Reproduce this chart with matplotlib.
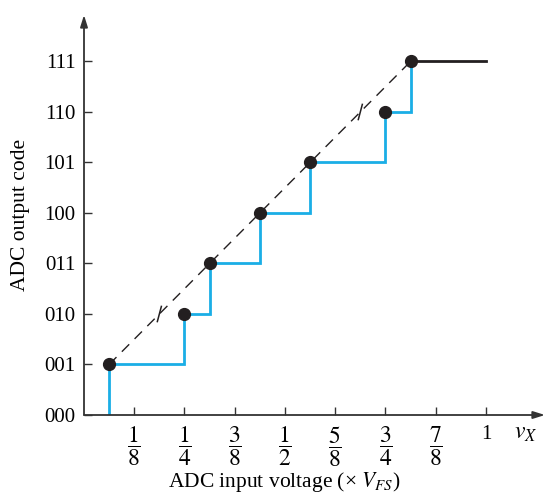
import numpy as np
import matplotlib
matplotlib.use("Agg")
import matplotlib.pyplot as plt

plt.rcParams['font.family'] = ['Liberation Serif', 'DejaVu Serif']
plt.rcParams['mathtext.fontset'] = 'stix'

# output codes on the y axis
code_labels = ['000', '001', '010', '011', '100', '101', '110', '111']
# x tick positions (fraction of full scale) and their labels
x_ticks = [1/8, 1/4, 3/8, 1/2, 5/8, 3/4, 7/8, 1]
x_tick_labels = [r'$\dfrac{1}{8}$', r'$\dfrac{1}{4}$', r'$\dfrac{3}{8}$', r'$\dfrac{1}{2}$',
                 r'$\dfrac{5}{8}$', r'$\dfrac{3}{4}$', r'$\dfrac{7}{8}$', '1']
# input voltages where the code steps up (measured transitions)
trans_x = [1/16, 1/4, 5/16, 7/16, 9/16, 3/4, 13/16]
trans_code = [1, 2, 3, 4, 5, 6, 7]
# small marks on the ideal line
mark_x = [3/16, 11/16]
mark_code = [2, 6]
full_scale = 1.0

blue = '#1aaee6'
dark = '#231f20'

fig = plt.figure(figsize=(5.46, 4.93), dpi=100)
ax = fig.add_axes([84/546, 78/493, 461/546, 400/493])
ax.set_xlim(0, 1.147)
ax.set_ylim(0, 7.92)

# staircase
xs = np.repeat(trans_x, 2)
ys = np.repeat(np.arange(len(trans_code) + 1), 2)[1:-1]
ax.plot(xs, ys, color=blue, lw=2.0, solid_joinstyle='miter', zorder=3)
ax.plot([trans_x[-1], full_scale], [trans_code[-1]] * 2, color=dark, lw=2.0, zorder=3)

# ideal straight line through the transition points
ax.plot([trans_x[0], trans_x[-1]], [trans_code[0], trans_code[-1]],
        color=dark, lw=1.0, dashes=(7.5, 5.5), zorder=2)
for mx, mc in zip(mark_x, mark_code):
    ax.plot([mx - 0.005, mx + 0.005], [mc - 0.15, mc + 0.15], color=dark, lw=1.1, zorder=2)

ax.plot(trans_x, trans_code, 'o', color=dark, ms=8.5, zorder=4)

# axes with arrows
for s in ax.spines.values():
    s.set_visible(False)
ax.annotate('', xy=(1.147, 0), xytext=(0, 0), xycoords='data',
            arrowprops=dict(arrowstyle='-|>,head_length=0.7,head_width=0.22',
                            color='#333333', lw=1.3, shrinkA=0, shrinkB=0))
ax.annotate('', xy=(0, 7.92), xytext=(0, 0), xycoords='data',
            arrowprops=dict(arrowstyle='-|>,head_length=0.7,head_width=0.22',
                            color='#333333', lw=1.3, shrinkA=0, shrinkB=0))

ax.set_yticks(range(len(code_labels)))
ax.set_yticklabels(code_labels, fontsize=15)
ax.set_xticks(x_ticks)
ax.set_xticklabels(x_tick_labels, fontsize=17)
ax.tick_params(direction='in', length=6, width=1.0, color='#333333', pad=6)
ax.tick_params(axis='x', pad=7)
ax.get_xticklabels()[-1].set_fontsize(15)

ax.text(1.1, -0.36, r'$v_X$', fontsize=17, ha='center', va='center')

fig.text(0.52, 1 - 482/493, r'ADC input voltage (× $V_{FS}$)', fontsize=15.5,
         ha='center', va='center')
fig.text(21/546, 1 - 215/493, 'ADC output code', fontsize=15.5, rotation=90,
         ha='center', va='center')

fig.savefig('out.png', dpi=100)
